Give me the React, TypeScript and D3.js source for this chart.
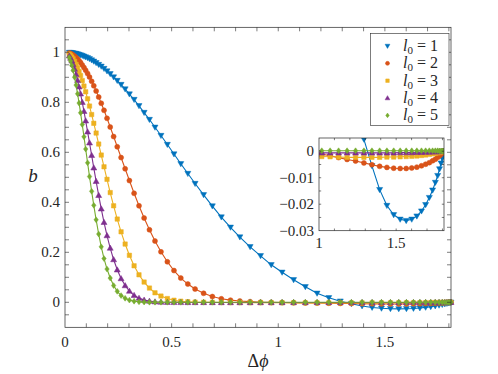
import React, { useEffect, useRef } from "react";
import * as d3 from "d3";

// DATA: shared Δφ grid (denser near both ends) and b for each l0
const dphi = [
  0.020, 0.026, 0.032, 0.038, 0.045, 0.052, 0.059, 0.066, 0.073, 0.081, 0.089, 0.097,
  0.106, 0.115, 0.125, 0.135, 0.146, 0.158, 0.170, 0.183, 0.197,
  0.212, 0.228, 0.245, 0.263, 0.282,
  0.302, 0.324, 0.347, 0.371, 0.396, 0.422,
  0.450, 0.480, 0.511, 0.543, 0.576,
  0.610, 0.650, 0.691, 0.733, 0.776,
  0.820, 0.868, 0.917, 0.967,
  1.018, 1.072, 1.127, 1.182,
  1.237, 1.291, 1.343, 1.393,
  1.440, 1.484, 1.526,
  1.565, 1.601, 1.634,
  1.664, 1.691, 1.715, 1.736,
  1.754, 1.769, 1.781, 1.791, 1.799, 1.805, 1.810,
];

const b1 = [
  0.999, 0.999, 0.998, 0.997, 0.996, 0.995, 0.993, 0.991, 0.989, 0.987, 0.984, 0.981,
  0.978, 0.974, 0.969, 0.964, 0.958, 0.951, 0.944, 0.935, 0.925,
  0.914, 0.901, 0.887, 0.871, 0.853,
  0.833, 0.811, 0.786, 0.759, 0.731, 0.700,
  0.667, 0.631, 0.593, 0.554, 0.515,
  0.475, 0.430, 0.385, 0.341, 0.300,
  0.261, 0.222, 0.186, 0.150,
  0.120, 0.090, 0.062, 0.036,
  0.018, 0.0045, -0.0055, -0.0145,
  -0.0205, -0.0240, -0.0257,
  -0.0262, -0.0257, -0.0245,
  -0.0226, -0.0202, -0.0175, -0.0147,
  -0.0118, -0.0092, -0.0067, -0.0045, -0.0027, -0.0013, 0,
];

const b2 = [
  0.997, 0.995, 0.992, 0.989, 0.984, 0.979, 0.973, 0.966, 0.959, 0.949, 0.939, 0.928,
  0.915, 0.901, 0.884, 0.866, 0.845, 0.821, 0.796, 0.768, 0.736,
  0.701, 0.663, 0.622, 0.579, 0.534,
  0.487, 0.436, 0.386, 0.337, 0.290, 0.245,
  0.202, 0.162, 0.127, 0.097, 0.073,
  0.053, 0.036, 0.023, 0.014, 0.0086,
  0.0049, 0.0026, 0.0005, -0.0004,
  -0.0011, -0.0017, -0.0024, -0.0031,
  -0.0037, -0.0044, -0.0051, -0.0057,
  -0.0061, -0.0064, -0.0065,
  -0.0065, -0.0063, -0.0060,
  -0.0055, -0.0049, -0.0043, -0.0036,
  -0.0030, -0.0023, -0.0017, -0.0011, -0.0006, -0.0003, 0,
];

const b3 = [
  0.993, 0.988, 0.981, 0.974, 0.964, 0.952, 0.938, 0.923, 0.907, 0.887, 0.865, 0.842,
  0.814, 0.785, 0.751, 0.716, 0.677, 0.633, 0.589, 0.542, 0.492,
  0.439, 0.386, 0.333, 0.282, 0.233,
  0.188, 0.146, 0.110, 0.081, 0.057, 0.038,
  0.025, 0.015, 0.0084, 0.0045, 0.0023,
  0.0008, 0.0002, -0.0003, -0.0007, -0.0010,
  -0.0013, -0.0015, -0.0017, -0.0019,
  -0.0020, -0.0021, -0.0022, -0.0023,
  -0.0023, -0.0023, -0.0023, -0.0023,
  -0.0022, -0.0022, -0.0021,
  -0.0020, -0.0019, -0.0018,
  -0.0016, -0.0014, -0.0012, -0.0010,
  -0.0008, -0.0006, -0.0005, -0.0003, -0.0002, -0.0001, 0,
];

const b4 = [
  0.986, 0.977, 0.966, 0.952, 0.933, 0.912, 0.888, 0.862, 0.834, 0.800, 0.764, 0.726,
  0.682, 0.638, 0.588, 0.538, 0.484, 0.428, 0.374, 0.320, 0.267,
  0.217, 0.171, 0.130, 0.095, 0.067,
  0.045, 0.028, 0.0167, 0.0093, 0.0048, 0.0023,
  0.0009, 0.0002, -0.0002, -0.0004, -0.0005,
  -0.0006, -0.0006, -0.0006, -0.0006, -0.0006,
  -0.0006, -0.0006, -0.0006, -0.0006,
  -0.0006, -0.0006, -0.0006, -0.0006,
  -0.0006, -0.0006, -0.0006, -0.0006,
  -0.0006, -0.0006, -0.0005,
  -0.0005, -0.0005, -0.0004,
  -0.0004, -0.0003, -0.0003, -0.0002,
  -0.0002, -0.0001, -0.0001, -0.0001, 0, 0, 0,
];

const b5 = [
  0.979, 0.965, 0.948, 0.928, 0.900, 0.869, 0.834, 0.797, 0.758, 0.711, 0.662, 0.613,
  0.558, 0.503, 0.444, 0.388, 0.330, 0.273, 0.222, 0.175, 0.133,
  0.097, 0.067, 0.044, 0.027, 0.016,
  0.0087, 0.0043, 0.0019, 0.0007, 0.0002, 0.0002,
  0.0002, 0.0002, 0.0002, 0.0002, 0.0002,
  0.0002, 0.0002, 0.0002, 0.0002, 0.0002,
  0.0002, 0.0002, 0.0002, 0.0002,
  0.0002, 0.0002, 0.0002, 0.0002,
  0.0002, 0.0002, 0.0002, 0.0002,
  0.0002, 0.0002, 0.0002,
  0.0002, 0.0002, 0.0002,
  0.0002, 0.0002, 0.0002, 0.0002,
  0.0002, 0.0002, 0.0001, 0.0001, 0.0001, 0, 0,
];

const levels = ["1", "2", "3", "4", "5"];
const colors = ["#0072BD", "#D95319", "#EDB120", "#7E2F8E", "#77AC30"];
const shapes = ["down", "circle", "square", "up", "diamond"];

// tick labels
const xTicks = [0, 0.5, 1, 1.5];
const yTicks = [0, 0.2, 0.4, 0.6, 0.8, 1];
const insetXTicks = [1, 1.5];
const insetYTicks = [0, -0.01, -0.02, -0.03];

const FONT = "'Liberation Serif', 'Times New Roman', serif";
const AXIS = "#262626";

const markerPath = (shape: string, s = 1) => {
  switch (shape) {
    case "down":
      return `M${-3 * s},${-2.2 * s}L${3 * s},${-2.2 * s}L0,${3 * s}Z`;
    case "up":
      return `M${-3 * s},${2.2 * s}L${3 * s},${2.2 * s}L0,${-3 * s}Z`;
    case "square":
      return `M${-2.2 * s},${-2.2 * s}h${4.4 * s}v${4.4 * s}h${-4.4 * s}Z`;
    case "diamond":
      return `M0,${-2.9 * s}L${2.2 * s},0L0,${2.9 * s}L${-2.2 * s},0Z`;
    default: {
      const r = 2.5 * s;
      return `M${r},0A${r},${r} 0 1,1 ${-r},0A${r},${r} 0 1,1 ${r},0Z`;
    }
  }
};

const minus = (v: number) => String(v).replace("-", "\u2212");

export default function App() {
  const ref = useRef<SVGSVGElement>(null);

  useEffect(() => {
    if (ref.current) drawChart(ref.current);
  }, []);

  return (
    <svg
      ref={ref}
      width={498}
      height={374}
      style={{ position: "absolute", left: 0, top: 0, background: "#fff" }}
    />
  );
}

const drawChart = (node: SVGSVGElement) => {
  const svg = d3.select(node);
  svg.selectAll("*").remove();

  const allSeries = [b1, b2, b3, b4, b5].map((vals, i) => ({
    level: levels[i],
    color: colors[i],
    shape: shapes[i],
    points: dphi.map((d, j) => ({ x: d, y: vals[j] })),
  }));

  // draw curves + markers
  const plotSeries = (g: any, xs: any, ys: any) => {
    const line = d3
      .line<{ x: number; y: number }>()
      .x((d) => xs(d.x))
      .y((d) => ys(d.y));
    allSeries.forEach((s) => {
      g.append("path")
        .datum(s.points)
        .attr("fill", "none")
        .attr("stroke", s.color)
        .attr("stroke-width", 1.1)
        .attr("d", line);
      g.selectAll(null)
        .data(s.points)
        .enter()
        .append("path")
        .attr("d", markerPath(s.shape))
        .attr("transform", (d: any) => `translate(${xs(d.x)},${ys(d.y)})`)
        .attr("fill", s.color)
        .attr("stroke", s.color)
        .attr("stroke-width", 0.5);
    });
  };

  // box with inward ticks on all four sides
  const drawFrame = (g: any, xs: any, ys: any, xt: number[], yt: number[], len: number) => {
    const [x0, x1] = xs.range();
    const [y0, y1] = ys.range();
    const eps = 0.5;
    const tk = g.append("g").attr("stroke", AXIS).attr("stroke-width", 0.6);
    xt.forEach((v) => {
      const px = xs(v);
      if (px < x0 + eps || px > x1 - eps) return;
      tk.append("line").attr("x1", px).attr("x2", px).attr("y1", y0).attr("y2", y0 - len);
      tk.append("line").attr("x1", px).attr("x2", px).attr("y1", y1).attr("y2", y1 + len);
    });
    yt.forEach((v) => {
      const py = ys(v);
      if (py > y0 - eps || py < y1 + eps) return;
      tk.append("line").attr("x1", x0).attr("x2", x0 + len).attr("y1", py).attr("y2", py);
      tk.append("line").attr("x1", x1).attr("x2", x1 - len).attr("y1", py).attr("y2", py);
    });
    g.append("rect")
      .attr("x", x0)
      .attr("y", y1)
      .attr("width", x1 - x0)
      .attr("height", y0 - y1)
      .attr("fill", "none")
      .attr("stroke", AXIS)
      .attr("stroke-width", 0.7);
  };

  // MAIN AXES
  const x = d3.scaleLinear().domain([0, 1.81]).range([65, 451]);
  const y = d3.scaleLinear().domain([-0.1, 1.1]).range([327.3, 27.3]);

  const main = svg.append("g");
  plotSeries(main, x, y);
  drawFrame(main, x, y, d3.range(0, 1.85, 0.1), d3.range(-0.1, 1.125, 0.05), 4);

  main
    .selectAll(null)
    .data(xTicks)
    .enter()
    .append("text")
    .attr("x", (d: number) => x(d))
    .attr("y", 347)
    .attr("text-anchor", "middle")
    .style("font-family", FONT)
    .attr("font-size", 15)
    .attr("fill", AXIS)
    .text((d: number) => String(d));

  main
    .selectAll(null)
    .data(yTicks)
    .enter()
    .append("text")
    .attr("x", 60)
    .attr("y", (d: number) => y(d))
    .attr("dy", "0.34em")
    .attr("text-anchor", "end")
    .style("font-family", FONT)
    .attr("font-size", 15)
    .attr("fill", AXIS)
    .text((d: number) => String(d));

  // AXIS LABELS
  const xl = svg
    .append("text")
    .attr("x", 258)
    .attr("y", 367)
    .attr("text-anchor", "middle")
    .style("font-family", FONT)
    .attr("font-size", 18)
    .attr("fill", AXIS);
  xl.append("tspan").text("\u0394");
  xl.append("tspan").attr("font-style", "italic").text("\u03D5");

  svg
    .append("text")
    .attr("x", 33)
    .attr("y", 182)
    .attr("text-anchor", "middle")
    .style("font-family", FONT)
    .attr("font-size", 19)
    .attr("font-style", "italic")
    .attr("fill", AXIS)
    .text("b");

  // INSET
  const ix = d3.scaleLinear().domain([1, 1.81]).range([319, 444]);
  const iy = d3.scaleLinear().domain([-0.03, 0.005]).range([230.7, 138]);
  const inset = svg.append("g");
  inset
    .append("rect")
    .attr("x", 319)
    .attr("y", 138)
    .attr("width", 125)
    .attr("height", 92.7)
    .attr("fill", "#fff");
  svg
    .append("defs")
    .append("clipPath")
    .attr("id", "inset-clip")
    .append("rect")
    .attr("x", 319)
    .attr("y", 138)
    .attr("width", 125)
    .attr("height", 92.7);
  const insetData = inset.append("g").attr("clip-path", "url(#inset-clip)");
  plotSeries(insetData, ix, iy);
  drawFrame(inset, ix, iy, d3.range(1, 1.85, 0.1), d3.range(-0.03, 0.0051, 0.005), 2.2);

  inset
    .selectAll(null)
    .data(insetXTicks)
    .enter()
    .append("text")
    .attr("x", (d: number) => ix(d))
    .attr("y", 248)
    .attr("text-anchor", "middle")
    .style("font-family", FONT)
    .attr("font-size", 15)
    .attr("fill", AXIS)
    .text((d: number) => String(d));

  inset
    .selectAll(null)
    .data(insetYTicks)
    .enter()
    .append("text")
    .attr("x", 314)
    .attr("y", (d: number) => iy(d))
    .attr("dy", "0.34em")
    .attr("text-anchor", "end")
    .style("font-family", FONT)
    .attr("font-size", 15)
    .attr("fill", AXIS)
    .text((d: number) => minus(d));

  // LEGEND
  const legend = svg.append("g");
  legend
    .append("rect")
    .attr("x", 370.5)
    .attr("y", 33.5)
    .attr("width", 78.5)
    .attr("height", 92)
    .attr("fill", "#fff")
    .attr("stroke", AXIS)
    .attr("stroke-width", 0.6);

  allSeries.forEach((s, i) => {
    const cy = 46 + i * 17.35;
    legend
      .append("path")
      .attr("d", markerPath(s.shape, 0.8))
      .attr("transform", `translate(387.5,${cy})`)
      .attr("fill", s.color)
      .attr("stroke", s.color)
      .attr("stroke-width", 0.5);
    const t = legend
      .append("text")
      .attr("x", 403)
      .attr("y", cy + 5)
      .style("font-family", FONT)
      .attr("font-size", 16)
      .attr("fill", AXIS);
    t.append("tspan").attr("font-style", "italic").text("l");
    t.append("tspan").attr("font-size", 11).attr("dy", 3).text("0");
    t.append("tspan").attr("dy", -3).attr("xml:space", "preserve").text(" = " + s.level);
  });
};
